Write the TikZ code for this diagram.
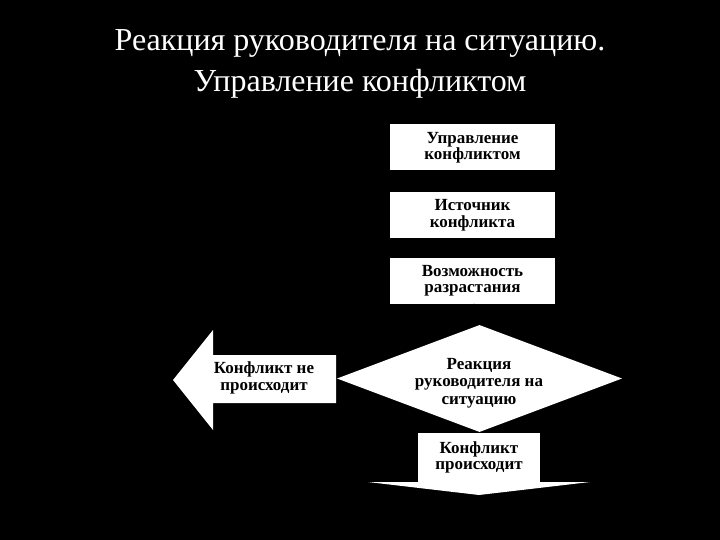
\documentclass[tikz,border=0pt]{standalone}
\usepackage{fontspec}
\setmainfont{Liberation Serif}
\usetikzlibrary{shapes.geometric}
\tikzset{
  stepbox/.style={rectangle, fill=white, text=black, minimum width=165pt, minimum height=46pt,
    align=center, inner sep=0pt, font=\bfseries\fontsize{17}{16.5}\selectfont},
  boxtext/.style={text=black, align=center, inner sep=0pt, font=\bfseries\fontsize{17}{17.5}\selectfont},
  link/.style={draw=black, thin}
}
\begin{document}
\begin{tikzpicture}[x=1pt,y=-1pt]
  \fill[black] (0,0) rectangle (720,540);
  % title
  \node[text=white, align=center, font=\fontsize{32}{41}\selectfont] (title) at (360,64)
    {Реакция руководителя на ситуацию.\\Управление конфликтом};
  % chain of boxes
  \node[stepbox] (manage) at (472.5,147.5) {Управление\\конфликтом};
  \node[stepbox] (source) at (472.5,215) {Источник\\конфликта};
  \node[stepbox] (growth) at (472.5,280.5) {Возможность\\разрастания};
  % decision
  \node[diamond, fill=white, minimum width=285pt, minimum height=107pt, inner sep=0pt] (react) at (479.5,378.5) {};
  \node[boxtext] (reacttext) at (479,383) {Реакция\\руководителя на\\ситуацию};
  % no conflict (left arrow)
  \fill[white] (336,355) -- (213,355) -- (213,330) -- (173,380) -- (213,430) -- (213,403) -- (336,403) -- cycle;
  \node[boxtext] (notext) at (264,378) {Конфликт не\\происходит};
  % conflict (down arrow)
  \node[stepbox, minimum width=122pt, minimum height=49pt] (yes) at (479,457.5) {Конфликт\\происходит};
  \fill[white] (368,482) -- (590,482) -- (479,495) -- cycle;
  % connectors
  \draw[link] (manage) -- (source);
  \draw[link] (source) -- (growth);
  \draw[link] (growth) -- (react);
\end{tikzpicture}
\end{document}
